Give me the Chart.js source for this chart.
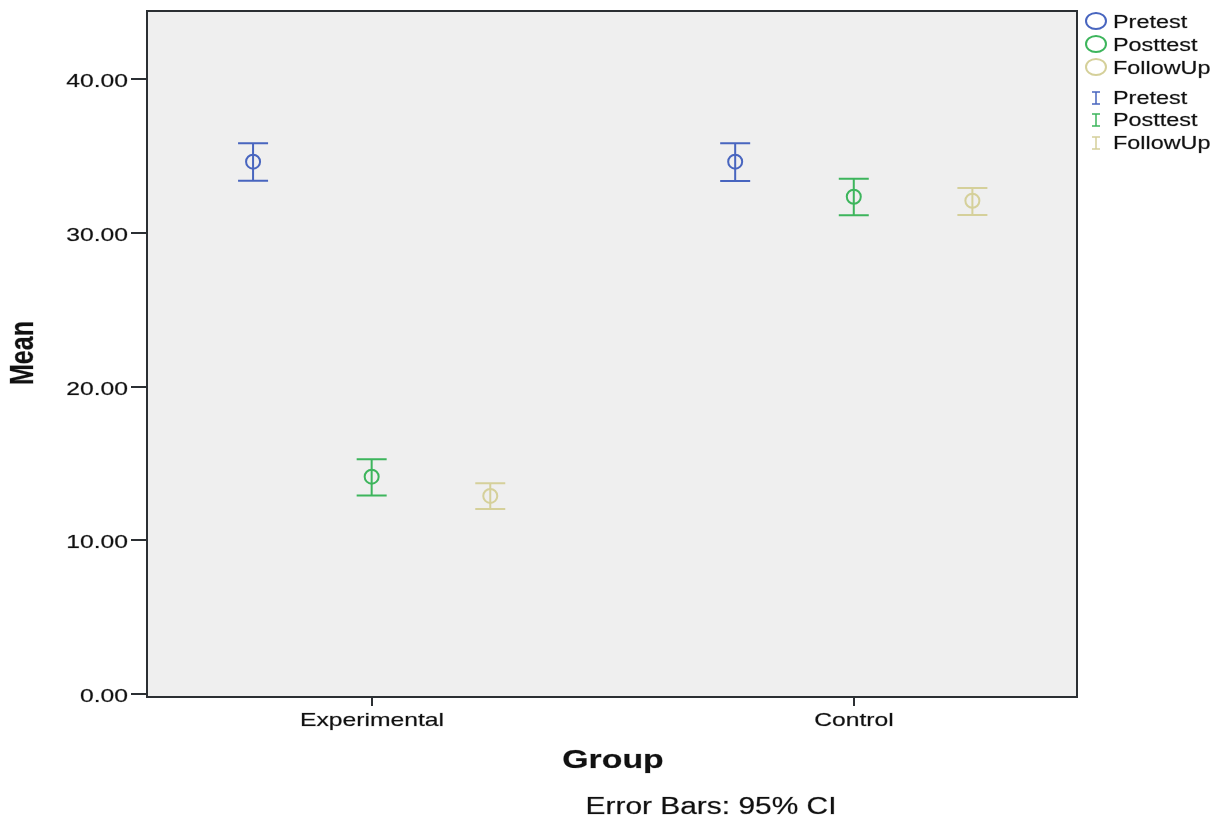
<!DOCTYPE html>
<html>
<head>
<meta charset="utf-8">
<script src="https://cdn.jsdelivr.net/npm/chart.js@4/dist/chart.umd.min.js"></script>
<style>
  html, body { margin: 0; padding: 0; background: #ffffff; }
  #wrap { width: 1225px; height: 820px; }
</style>
</head>
<body>
<div id="wrap"><canvas id="chart" width="1225" height="820"></canvas></div>
<script>
// Groups on the x axis
const groups = ['Experimental', 'Control'];
// Measurement occasions (one series each)
const seriesNames = ['Pretest', 'Posttest', 'FollowUp'];
const seriesColors = ['#4865bf', '#3db55c', '#d5d09a'];

// Means and 95% CI limits per group
const pretestMean  = [34.64, 34.64];
const pretestLow   = [33.40, 33.38];
const pretestHigh  = [35.84, 35.84];

const posttestMean = [14.15, 32.36];
const posttestLow  = [12.92, 31.15];
const posttestHigh = [15.28, 33.53];

const followUpMean = [12.90, 32.10];
const followUpLow  = [12.05, 31.17];
const followUpHigh = [13.72, 32.93];

// Y axis tick labels
const yTickValues = [0, 10, 20, 30, 40];
const yTickLabels = ['0.00', '10.00', '20.00', '30.00', '40.00'];

const means = [pretestMean, posttestMean, followUpMean];
const lows  = [pretestLow, posttestLow, followUpLow];
const highs = [pretestHigh, posttestHigh, followUpHigh];

// Cluster layout: group i sits at x = i + 1, series spread around it
const clusterOffset = [-0.246, 0, 0.246];
const FONT = '"Liberation Sans", Arial, sans-serif';
const STRETCH = 1.3;

const datasets = seriesNames.map((name, s) => ({
  label: name,
  data: groups.map((g, i) => ({ x: i + 1 + clusterOffset[s], y: means[s][i] })),
  borderColor: seriesColors[s],
  backgroundColor: 'rgba(0,0,0,0)',
  pointStyle: 'circle',
  pointRadius: 7,
  pointBorderWidth: 2,
  showLine: false
}));

// Text drawn with a horizontal stretch
function stretchedText(ctx, text, x, y, font, align, baseline, rotate) {
  ctx.save();
  ctx.translate(x, y);
  ctx.scale(STRETCH, 1);
  if (rotate) ctx.rotate(rotate);
  ctx.font = font;
  ctx.fillStyle = '#111111';
  ctx.strokeStyle = 'rgba(17,17,17,0.35)';
  ctx.lineWidth = 0.6;
  ctx.textAlign = align;
  ctx.textBaseline = baseline;
  ctx.fillText(text, 0, 0);
  ctx.strokeText(text, 0, 0);
  ctx.restore();
}

const panelPlugin = {
  id: 'panel',
  beforeDraw(chart) {
    const { ctx, chartArea: a } = chart;
    ctx.save();
    ctx.fillStyle = '#efefef';
    ctx.fillRect(a.left, a.top, a.right - a.left, a.bottom - a.top);
    ctx.restore();
  },
  afterDraw(chart) {
    const { ctx, chartArea: a } = chart;
    const xs = chart.scales.x, ys = chart.scales.y;
    ctx.save();
    ctx.strokeStyle = '#2b2f33';
    ctx.lineWidth = 2;
    ctx.strokeRect(a.left, a.top, a.right - a.left, a.bottom - a.top);
    // y ticks and labels
    yTickValues.forEach((v, i) => {
      const py = Math.round(ys.getPixelForValue(v));
      ctx.beginPath();
      ctx.moveTo(a.left - 16, py);
      ctx.lineTo(a.left, py);
      ctx.stroke();
      stretchedText(ctx, yTickLabels[i], a.left - 19, py + 3, '19px ' + FONT, 'right', 'middle');
    });
    // x ticks and labels
    groups.forEach((g, i) => {
      const px = Math.round(xs.getPixelForValue(i + 1));
      ctx.beginPath();
      ctx.moveTo(px, a.bottom);
      ctx.lineTo(px, a.bottom + 9);
      ctx.stroke();
      stretchedText(ctx, g, px, a.bottom + 24, '19px ' + FONT, 'center', 'middle');
    });
    ctx.restore();
    // axis titles and note
    stretchedText(ctx, 'Group', 613, 761, 'bold 26px ' + FONT, 'center', 'middle');
    stretchedText(ctx, 'Error Bars: 95% CI', 711, 808, '23px ' + FONT, 'center', 'middle');
    stretchedText(ctx, 'Mean', 24, 353, 'bold 25px ' + FONT, 'center', 'middle', -Math.PI / 2);
  }
};

const errorBarPlugin = {
  id: 'errorBars',
  afterDatasetsDraw(chart) {
    const { ctx } = chart;
    const ys = chart.scales.y;
    ctx.save();
    ctx.lineWidth = 2;
    seriesNames.forEach((name, s) => {
      const meta = chart.getDatasetMeta(s);
      ctx.strokeStyle = seriesColors[s];
      meta.data.forEach((pt, i) => {
        const x = pt.x;
        const yl = ys.getPixelForValue(lows[s][i]);
        const yh = ys.getPixelForValue(highs[s][i]);
        ctx.beginPath();
        ctx.moveTo(x, yl); ctx.lineTo(x, yh);
        ctx.moveTo(x - 15, yh); ctx.lineTo(x + 15, yh);
        ctx.moveTo(x - 15, yl); ctx.lineTo(x + 15, yl);
        ctx.stroke();
      });
    });
    ctx.restore();
  }
};

const legendPlugin = {
  id: 'sideLegend',
  afterDraw(chart) {
    const { ctx } = chart;
    const cx = 1096, tx = 1113;
    const markerRows = [21, 44, 67];
    const barRows = [98, 120, 143];
    ctx.save();
    ctx.lineWidth = 2;
    seriesNames.forEach((name, s) => {
      ctx.strokeStyle = seriesColors[s];
      ctx.beginPath();
      ctx.ellipse(cx, markerRows[s], 10, 8, 0, 0, Math.PI * 2);
      ctx.stroke();
      stretchedText(ctx, name, tx, markerRows[s] + 2, '18px ' + FONT, 'left', 'middle');

      const y = barRows[s];
      ctx.lineWidth = 1.5;
      ctx.beginPath();
      ctx.moveTo(cx, y - 6); ctx.lineTo(cx, y + 6);
      ctx.moveTo(cx - 4, y - 6); ctx.lineTo(cx + 4, y - 6);
      ctx.moveTo(cx - 4, y + 6); ctx.lineTo(cx + 4, y + 6);
      ctx.stroke();
      ctx.lineWidth = 2;
      stretchedText(ctx, name, tx, y + 1, '18px ' + FONT, 'left', 'middle');
    });
    ctx.restore();
  }
};

new Chart(document.getElementById('chart'), {
  type: 'scatter',
  data: { datasets },
  options: {
    responsive: false,
    animation: false,
    layout: { padding: { left: 147, top: 11, right: 148, bottom: 123 } },
    plugins: { legend: { display: false }, tooltip: { enabled: false } },
    scales: {
      x: { type: 'linear', min: 0.534, max: 2.463, display: false },
      y: { type: 'linear', min: -0.18, max: 44.44, display: false }
    }
  },
  plugins: [panelPlugin, errorBarPlugin, legendPlugin]
});
</script>
</body>
</html>
